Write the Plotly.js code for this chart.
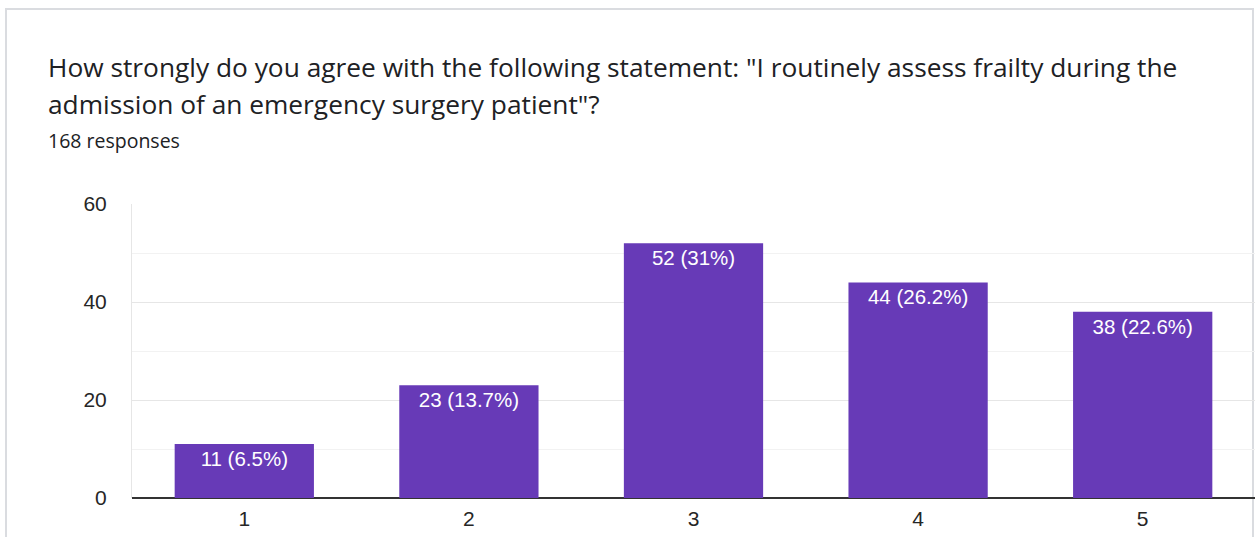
<!DOCTYPE html>
<html>
<head>
<meta charset="utf-8">
<script src="https://cdn.plot.ly/plotly-3.0.1.min.js"></script>
<style>
  html, body { margin: 0; padding: 0; background: #ffffff; }
  #wrap { position: relative; width: 1258px; height: 537px; overflow: hidden; }
  #card {
    position: absolute; left: 5px; top: 8px; width: 1249px; height: 560px;
    border: 2px solid #dadce0; box-sizing: border-box; pointer-events: none;
  }
  #chart { position: absolute; left: 0; top: 0; width: 1258px; height: 537px; }
</style>
</head>
<body>
<div id="wrap">
  <div id="card"></div>
  <div id="chart"></div>
</div>
<script>
// Survey answers on a 1–5 agreement scale
const categories = ['1', '2', '3', '4', '5'];
const counts = [11, 23, 52, 44, 38];
const totalResponses = 168;
const yTicks = [0, 20, 40, 60];

const questionLine1 = 'How strongly do you agree with the following statement: "I routinely assess frailty during the';
const questionLine2 = 'admission of an emergency surgery patient"?';
const responsesLabel = totalResponses + ' responses';

// "count (pct%)" labels, one decimal, trailing ".0" dropped
const barLabels = counts.map(function (c) {
  let p = (100 * c / totalResponses).toFixed(1);
  if (p.endsWith('.0')) p = p.slice(0, -2);
  return c + ' (' + p + '%)';
});

const W = 1258, H = 537;
const M = { l: 132, r: 3, t: 204, b: 39 };
const plotW = W - M.l - M.r, plotH = H - M.t - M.b;
const px2x = function (px) { return (px - M.l) / plotW; };
const px2y = function (py) { return (H - M.b - py) / plotH; };

const axisFont = { family: 'Liberation Sans, Arial, sans-serif', size: 21, color: '#262626' };

const trace = {
  type: 'bar',
  x: categories,
  y: counts,
  text: barLabels,
  textposition: 'inside',
  insidetextanchor: 'end',
  textangle: 0,
  textfont: { family: 'Liberation Sans, Arial, sans-serif', size: 20.5, color: '#ffffff' },
  marker: { color: '#673ab7', line: { width: 0 } },
  hoverinfo: 'skip',
  cliponaxis: false
};

const titleFont = { family: '"Open Sans", Roboto, sans-serif', size: 26.3, color: '#202124' };

const layout = {
  width: W,
  height: H,
  margin: M,
  paper_bgcolor: 'rgba(0,0,0,0)',
  plot_bgcolor: 'rgba(0,0,0,0)',
  showlegend: false,
  bargap: 0.38,
  xaxis: {
    type: 'category',
    showgrid: false,
    zeroline: false,
    showline: false,
    ticks: '',
    ticklabelstandoff: 6,
    tickfont: axisFont,
    fixedrange: true
  },
  yaxis: {
    range: [0, 60],
    tickvals: yTicks,
    ticks: '',
    ticklabelstandoff: 20,
    tickfont: axisFont,
    showgrid: true,
    gridcolor: '#e6e6e6',
    gridwidth: 1,
    minor: { dtick: 10, showgrid: true, gridcolor: '#f2f2f2', gridwidth: 1 },
    zeroline: true,
    zerolinecolor: '#333333',
    zerolinewidth: 2,
    showline: true,
    linecolor: '#e6e6e6',
    linewidth: 1,
    fixedrange: true
  },
  annotations: [
    {
      text: questionLine1, xref: 'paper', yref: 'paper',
      x: px2x(46), y: px2y(67), xanchor: 'left', yanchor: 'middle',
      showarrow: false, font: titleFont
    },
    {
      text: questionLine2, xref: 'paper', yref: 'paper',
      x: px2x(46), y: px2y(104), xanchor: 'left', yanchor: 'middle',
      showarrow: false, font: titleFont
    },
    {
      text: responsesLabel, xref: 'paper', yref: 'paper',
      x: px2x(46), y: px2y(140), xanchor: 'left', yanchor: 'middle',
      showarrow: false,
      font: { family: '"Open Sans", Roboto, sans-serif', size: 19.5, color: '#202124' }
    }
  ]
};

Plotly.newPlot('chart', [trace], layout, { displayModeBar: false, staticPlot: true });
</script>
</body>
</html>
